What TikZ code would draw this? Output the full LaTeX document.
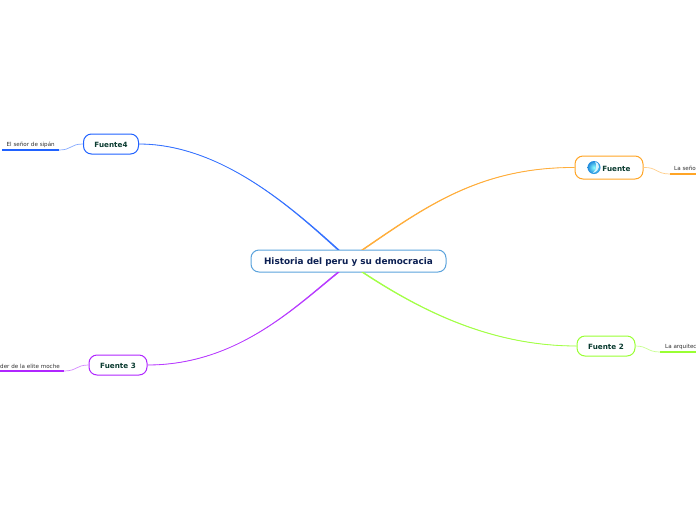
\documentclass[tikz,border=0pt]{standalone}
\usepackage{fontspec}
\setmainfont{DejaVu Sans}
\usetikzlibrary{calc}

\definecolor{histline}{HTML}{5BA3DC}
\definecolor{histtext}{HTML}{0B1F52}
\definecolor{fuentetext}{HTML}{0A3B30}
\definecolor{leaftext}{HTML}{303030}
\definecolor{fblue}{HTML}{2062FF}
\definecolor{forange}{HTML}{FFA526}
\definecolor{fgreen}{HTML}{99FF33}
\definecolor{fpurple}{HTML}{B026FF}
\definecolor{globeblue}{HTML}{1E88DC}

\tikzset{
  rootbox/.style={draw=histline, line width=1pt, rounded corners=8pt, fill=white, inner sep=0pt,
    text height=7.5pt, text depth=0.5pt, text=histtext, font=\fontsize{8.9}{11}\selectfont\bfseries},
  fuentebox/.style={draw=#1, line width=1pt, rounded corners=8pt, fill=white, inner sep=0pt,
    text height=7pt, text depth=0pt, text=fuentetext, font=\fontsize{7.2}{10}\selectfont\bfseries},
  leaflabel/.style={inner sep=0pt, text=leaftext, font=\fontsize{5.6}{7}\selectfont},
  branch/.style={draw=#1!90, fill=#1, line width=0.8pt},
  twig/.style={draw=#1!55, line width=0.7pt},
  underline/.style={draw=#1, line width=1.7pt}
}

\begin{document}
\begin{tikzpicture}[x=1pt, y=-1pt]
  \useasboundingbox (0, 0) rectangle (696, 520);

  % main topic and the four sources
  \node[rootbox, minimum width=195pt, minimum height=22pt] (hist) at (348.5, 261) {Historia del peru y su democracia};
  \node[fuentebox=fblue, minimum width=55pt, minimum height=20pt] (fuente4) at (111, 144) {Fuente4};
  \node[fuentebox=forange, minimum width=68pt, minimum height=23pt] (fuente1) at (609, 167.5) {\hspace*{15pt}Fuente};
  \node[fuentebox=fgreen, minimum width=58pt, minimum height=20pt] (fuente2) at (606, 346) {Fuente 2};
  \node[fuentebox=fpurple, minimum width=58pt, minimum height=20pt] (fuente3) at (118, 365) {Fuente 3};

  % globe icon
  \node[circle, minimum size=13pt, inner sep=0pt, inner color=cyan!45!white, outer color=globeblue] (globe) at (594, 167.5) {};
  \fill[white!85!cyan] (595, 161.5) .. controls (601, 163) and (600, 171) .. (593, 173) .. controls (597, 169) and (597, 165) .. (595, 161.5);

  % where the branches leave the main topic
  \coordinate (histNW) at ($(hist.north)+(-10.5, 0)$);
  \coordinate (histNE) at ($(hist.north)+(14.5, 0)$);
  \coordinate (histSW) at ($(hist.south)+(-10.5, 0)$);
  \coordinate (histSE) at ($(hist.south)+(14.5, 0)$);

  % branches, wider at the main topic
  \filldraw[branch=fblue] ($(histNW)+(-0.6, 0)$) .. controls (293.7, 210) and (222, 144) .. (fuente4.east)
    .. controls (222, 144.2) and (294.3, 210) .. ($(histNW)+(0.6, 0)$) -- cycle;
  \filldraw[branch=forange] ($(histNE)+(-0.6, 0)$) .. controls (424.7, 207) and (480, 167) .. (fuente1.west)
    .. controls (480, 167.2) and (425.3, 207.2) .. ($(histNE)+(0.6, 0)$) -- cycle;
  \filldraw[branch=fgreen] ($(histSE)+(-0.6, 0)$) .. controls (419.7, 310) and (490, 346) .. (fuente2.west)
    .. controls (490, 345.8) and (420.3, 309.8) .. ($(histSE)+(0.6, 0)$) -- cycle;
  \filldraw[branch=fpurple] ($(histSW)+(-0.6, 0)$) .. controls (291.7, 310) and (235, 365) .. (fuente3.east)
    .. controls (235, 364.8) and (292.3, 310) .. ($(histSW)+(0.6, 0)$) -- cycle;

  % leaf labels
  \node[leaflabel, anchor=south west] (leaf4) at (6.5, 147.5) {El señor de sipán};
  \node[leaflabel, anchor=south west] (leaf1) at (674, 170.5) {La seño};
  \node[leaflabel, anchor=south west] (leaf2) at (665, 349.5) {La arquitec};
  \node[leaflabel, anchor=south west] (leaf3) at (0, 368.5) {der de la elite moche};

  % ends of the underlines
  \coordinate (line4a) at (59, 150);
  \coordinate (line4b) at (2, 150);
  \coordinate (line1a) at (670, 174);
  \coordinate (line1b) at (696, 174);
  \coordinate (line2a) at (660, 352);
  \coordinate (line2b) at (696, 352);
  \coordinate (line3a) at (64, 371);
  \coordinate (line3b) at (0, 371);

  % thin twigs
  \draw[twig=fblue] (fuente4.west) .. controls (70, 144) and (72, 150) .. (line4a);
  \draw[twig=forange] (fuente1.east) .. controls (657, 167) and (656, 174) .. (line1a);
  \draw[twig=fgreen] (fuente2.east) .. controls (648, 346) and (647, 352) .. (line2a);
  \draw[twig=fpurple] (fuente3.west) .. controls (76, 365) and (77, 371) .. (line3a);

  % underlines
  \draw[underline=fblue] (line4a) -- (line4b);
  \draw[underline=forange] (line1a) -- (line1b);
  \draw[underline=fgreen] (line2a) -- (line2b);
  \draw[underline=fpurple] (line3a) -- (line3b);

\end{tikzpicture}
\end{document}
